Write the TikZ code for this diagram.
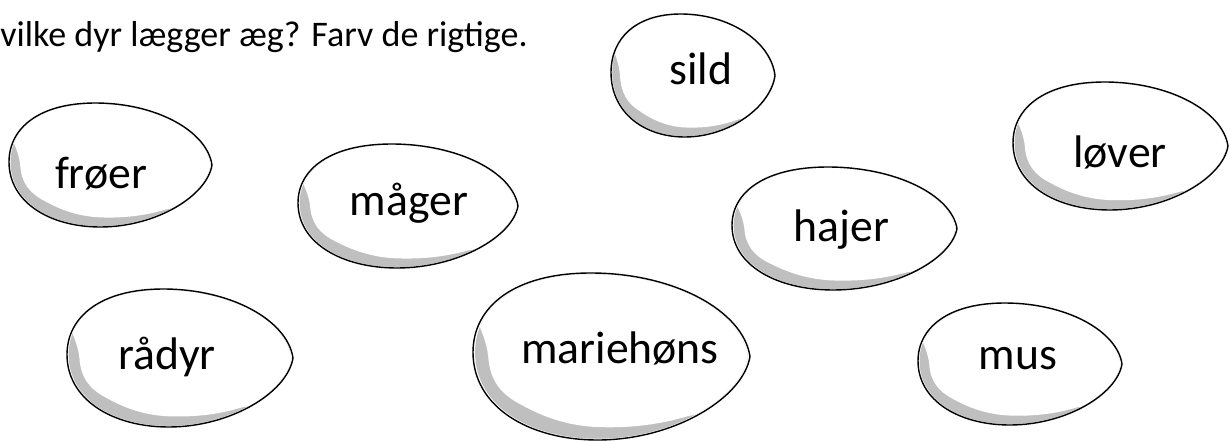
\documentclass[tikz,border=0pt]{standalone}
\usepackage{fontspec}
\setmainfont{Carlito}

\tikzset{
  eggedge/.style={draw=black,line width=0.8pt},
  eggshade/.style={fill=black!25},
  egglabel/.style={font=\fontsize{26}{31}\selectfont,text=black,inner sep=0pt,anchor=base},
}
% unit egg, blunt end left, tip right
\newcommand{\eggcurve}{(1,0) .. controls (0.95,0.55) and (0.45,1) .. (-0.15,1) .. controls (-0.7,1) and (-1,0.6) .. (-1,0.05) .. controls (-1,-0.6) and (-0.6,-1) .. (-0.1,-1) .. controls (0.45,-1) and (0.95,-0.5) .. (1,0) -- cycle}
% everything above the shadow
\newcommand{\eggcover}{(-1.02,0.6) .. controls (-0.93,0.3) and (-0.9,0.15) .. (-0.89,0) .. controls (-0.88,-0.28) and (-0.8,-0.45) .. (-0.66,-0.57) .. controls (-0.5,-0.72) and (-0.32,-0.83) .. (-0.1,-0.845) .. controls (0.15,-0.86) and (0.36,-0.81) .. (0.56,-0.71) -- (1.5,-0.5) -- (1.5,1.5) -- (-1.5,1.5) -- (-1.5,0.6) -- cycle}
% \egg{x}{y}{half width}{half height}
\newcommand{\egg}[4]{%
\begin{scope}[shift={(#1,#2)},xscale=#3,yscale=#4]
\fill[white] \eggcurve;
\begin{scope}
\clip[scale=0.985] \eggcurve;
\fill[eggshade] (-2,-2) rectangle (2,2);
\fill[white] \eggcover;
\end{scope}
\draw[eggedge] \eggcurve;
\end{scope}}

\begin{document}
\begin{tikzpicture}
\useasboundingbox (0,0) rectangle (24.6,8.8);

\node[font=\fontsize{20.5}{25}\selectfont,text=black,inner sep=0pt,anchor=base west] (task) at (0,7.86) {vilke dyr lægger æg? Farv de rigtige.};

% eggs
\egg{2.21}{5.50}{2.03}{1.24}
\egg{13.86}{7.29}{1.64}{1.23}
\egg{8.16}{4.68}{2.20}{1.24}
\egg{16.89}{4.23}{2.25}{1.23}
\egg{22.41}{5.88}{2.15}{1.28}
\egg{3.60}{1.64}{2.26}{1.38}
\egg{12.23}{1.67}{2.77}{1.67}
\egg{20.40}{1.52}{2.04}{1.22}

% animals
\node[egglabel] (froer) at (2.02,5.02) {frøer};
\node[egglabel] (sild) at (14.02,7.10) {sild};
\node[egglabel] (maager) at (8.18,4.48) {måger};
\node[egglabel] (hajer) at (16.83,3.96) {hajer};
\node[egglabel] (loever) at (22.40,5.44) {løver};
\node[egglabel] (raadyr) at (3.34,1.42) {rådyr};
\node[egglabel] (mariehoens) at (12.40,1.54) {mariehøns};
\node[egglabel] (mus) at (20.36,1.42) {mus};

\end{tikzpicture}
\end{document}
